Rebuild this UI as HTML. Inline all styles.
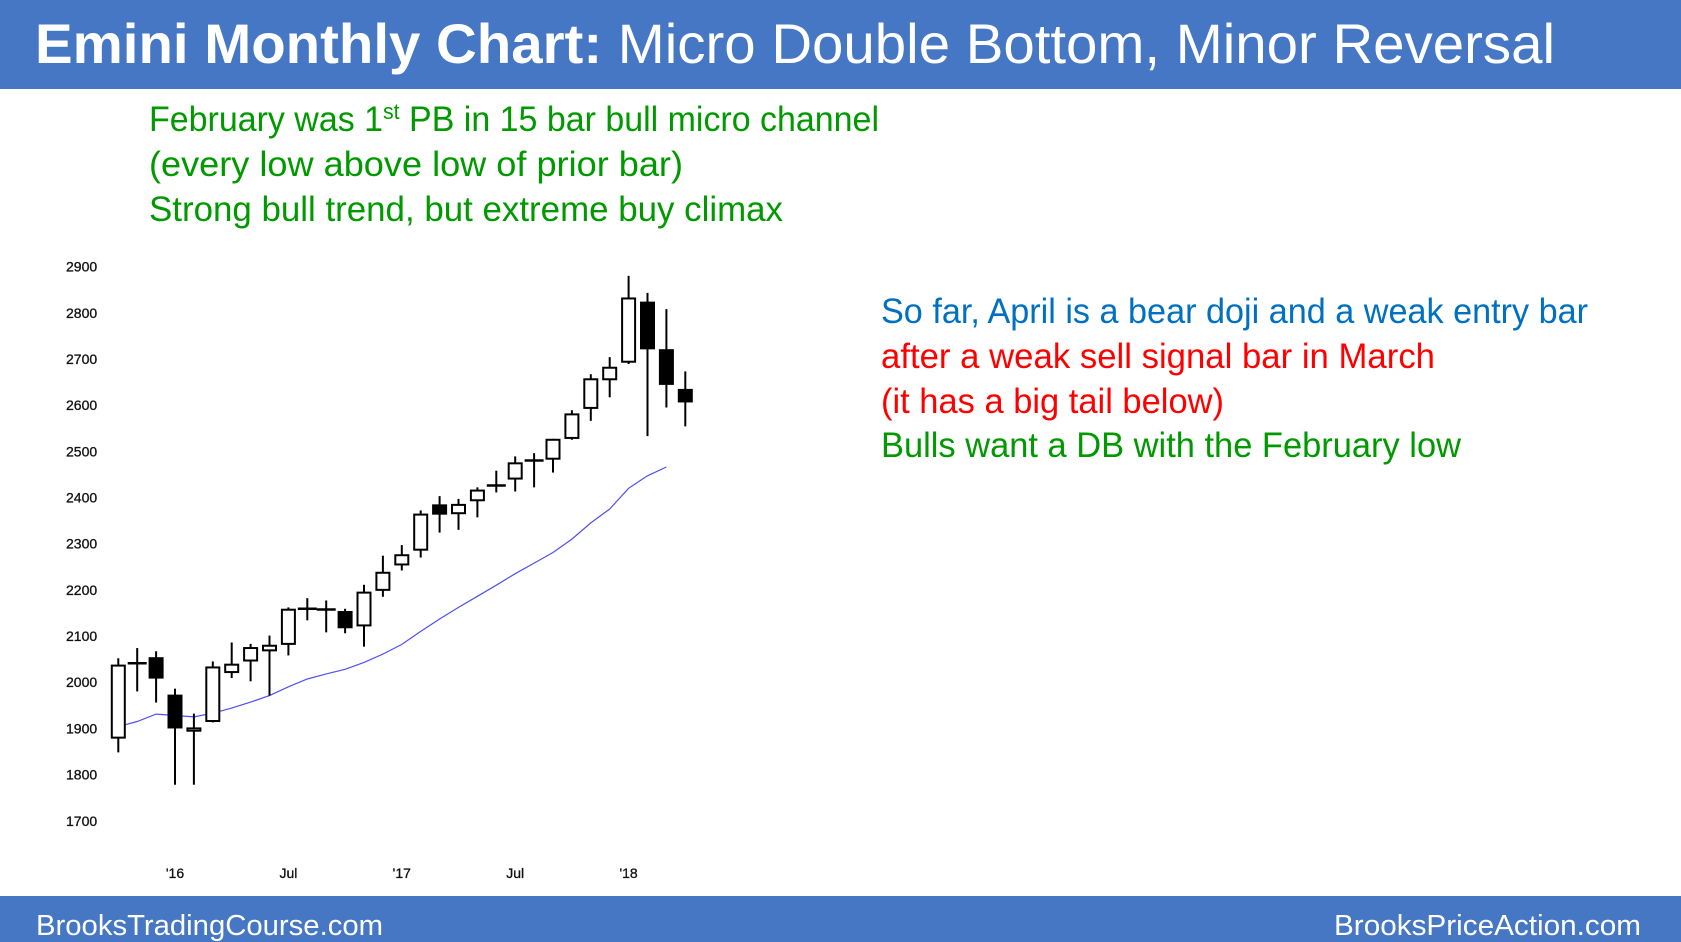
<!DOCTYPE html>
<html><head><meta charset="utf-8">
<style>
html,body{margin:0;padding:0;background:#fff;}
svg{display:block;}
text{font-family:"Liberation Sans",sans-serif;}
</style></head>
<body>
<svg id="chart" width="1681" height="942" viewBox="0 0 1681 942" xmlns="http://www.w3.org/2000/svg">
  <rect x="0" y="0" width="1681" height="89" fill="#4677C5"/>
  <text x="35" y="63" font-size="56" fill="#fff" textLength="1520" lengthAdjust="spacingAndGlyphs"><tspan font-weight="bold">Emini Monthly Chart:</tspan> Micro Double Bottom, Minor Reversal</text>

  <g fill="#009900" font-size="35">
    <text x="149" y="131" textLength="730" lengthAdjust="spacingAndGlyphs">February was 1<tspan font-size="22" dy="-12">st</tspan><tspan dy="12"> PB in 15 bar bull micro channel</tspan></text>
    <text x="149" y="176" textLength="534" lengthAdjust="spacingAndGlyphs">(every low above low of prior bar)</text>
    <text x="149" y="221" textLength="634" lengthAdjust="spacingAndGlyphs">Strong bull trend, but extreme buy climax</text>
  </g>
  <g font-size="35">
    <text x="881" y="323" fill="#0070C0" textLength="707" lengthAdjust="spacingAndGlyphs">So far, April is a bear doji and a weak entry bar</text>
    <text x="881" y="368" fill="#FF0000" textLength="554" lengthAdjust="spacingAndGlyphs">after  a weak sell signal bar in March</text>
    <text x="881" y="413" fill="#FF0000" textLength="343" lengthAdjust="spacingAndGlyphs">(it has a big tail below)</text>
    <text x="881" y="457" fill="#009900" textLength="580" lengthAdjust="spacingAndGlyphs">Bulls want a DB with the February low</text>
  </g>

  <g id="yaxis"></g>
  <g id="xaxis"></g>
  <g id="ma"></g>
  <g id="candles"></g>

  <rect x="0" y="896" width="1681" height="46" fill="#4677C5"/>
  <text x="36" y="935" font-size="29" fill="#fff" textLength="347" lengthAdjust="spacingAndGlyphs">BrooksTradingCourse.com</text>
  <text x="1334" y="935" font-size="29" fill="#fff" textLength="307" lengthAdjust="spacingAndGlyphs">BrooksPriceAction.com</text>
</svg>
<script>
const opens  = [1880,2040,2052,1971,1895,1916,2022,2047,2069,2083,2158,2157,2152,2123,2200,2255,2287,2383,2366,2394,2425,2441,2479,2484,2529,2594,2656,2694,2822,2719,2633];
const highs  = [2052,2074,2067,1986,1932,2045,2086,2083,2101,2162,2182,2177,2159,2211,2274,2297,2372,2403,2397,2422,2458,2489,2496,2527,2589,2667,2704,2880,2843,2808,2673];
const lows   = [1848,1980,1956,1778,1778,1913,2009,2002,1971,2058,2134,2108,2106,2077,2185,2242,2270,2324,2330,2357,2411,2413,2422,2454,2525,2566,2617,2689,2533,2595,2554];
const closes = [2036,2042,2010,1902,1900,2032,2038,2074,2079,2157,2160,2158,2119,2194,2237,2275,2363,2365,2384,2415,2427,2474,2481,2525,2580,2656,2681,2831,2723,2646,2608];
const maValues = [1904,1915,1931,1928,1925,1933,1944,1957,1971,1990,2007,2018,2028,2043,2061,2082,2110,2137,2162,2186,2210,2235,2258,2281,2310,2345,2375,2420,2447,2466];
const yTicks = [1700,1800,1900,2000,2100,2200,2300,2400,2500,2600,2700,2800,2900];
const xTickLabels = ["'16","Jul","'17","Jul","'18"];
const xTickIndex = [3,9,15,21,27];

const NS="http://www.w3.org/2000/svg";
function yScale(p){return 266.6+(2900-p)*0.4618;}
function xScale(i){return 118.3+i*18.9;}
function mk(tag,attrs,parent){const e=document.createElementNS(NS,tag);for(const k in attrs)e.setAttribute(k,attrs[k]);parent.appendChild(e);return e;}

const yg=document.getElementById('yaxis');
yTicks.forEach(v=>{
  const t=mk('text',{x:66,y:yScale(v)+5,'font-size':14,fill:'#111',stroke:'#111','stroke-width':0.3},yg);
  
  
  t.textContent=v;
});
const xg=document.getElementById('xaxis');
xTickLabels.forEach((l,k)=>{
  const t=mk('text',{x:xScale(xTickIndex[k]),y:878,'font-size':14,fill:'#111',stroke:'#111','stroke-width':0.3,'text-anchor':'middle'},xg);
  
  
  t.textContent=l;
});

const mg=document.getElementById('ma');
const pts=maValues.map((v,i)=>xScale(i).toFixed(1)+','+yScale(v).toFixed(1)).join(' ');
const pl=mk('polyline',{points:pts,fill:'none',stroke:'#5050F0','stroke-width':1.2},mg);



const cg=document.getElementById('candles');
const bw=13;
opens.forEach((o,i)=>{
  const c=closes[i],x=xScale(i);
  const g=mk('g',{},cg);
  
  
  mk('line',{x1:x,x2:x,y1:yScale(highs[i]),y2:yScale(lows[i]),stroke:'#000','stroke-width':2},g);
  const top=yScale(Math.max(o,c)),bot=yScale(Math.min(o,c));
  const h=bot-top;
  if(h<1.6){
    mk('line',{x1:x-bw/2-3,x2:x+bw/2+3,y1:(top+bot)/2,y2:(top+bot)/2,stroke:'#000','stroke-width':2.5},g);
  } else {
    mk('rect',{x:x-bw/2,y:top,width:bw,height:h,fill:c<o?'#000':'#fff',stroke:'#000','stroke-width':2},g);
  }
});
</script>
</body></html>
